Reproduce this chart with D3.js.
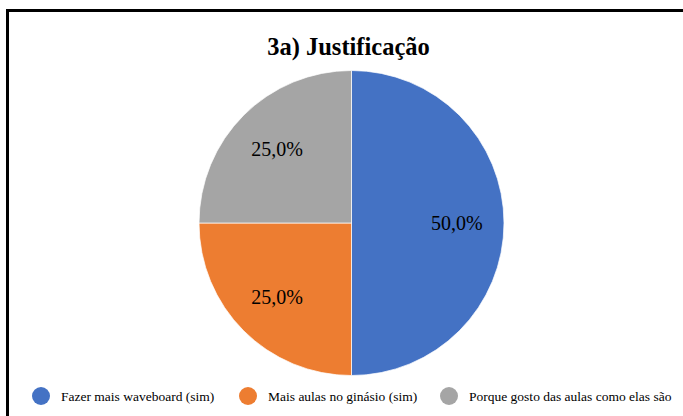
<!DOCTYPE html>
<html>
<head>
<meta charset="utf-8">
<script src="https://cdn.jsdelivr.net/npm/d3@7"></script>
<style>
    body { margin: 0; background: white; }
    svg text { font-family: "Liberation Serif", "Times New Roman", Tinos, "DejaVu Serif", serif; }
</style>
</head>
<body>
<svg id="chart"></svg>
<script>
// categories and shares (percent)
const categories = ["Fazer mais waveboard (sim)", "Mais aulas no ginásio (sim)", "Porque gosto das aulas como elas são"];
const values = [50.0, 25.0, 25.0];
const colors = ["#4472C4", "#ED7D31", "#A5A5A5"];
const title = "3a) Justificação";

const width = 683;
const height = 416;
const serif = "'Liberation Serif', 'Times New Roman', Tinos, 'DejaVu Serif', serif";

const svg = d3.select("#chart")
    .attr("width", width)
    .attr("height", height);

// frame around the chart (runs off the right and bottom)
svg.append("rect")
    .attr("x", 7.5)
    .attr("y", 10.5)
    .attr("width", 720)
    .attr("height", 440)
    .style("fill", "white")
    .style("stroke", "black")
    .style("stroke-width", 3);

// title
svg.append("text")
    .attr("x", 348.5)
    .attr("y", 55)
    .attr("text-anchor", "middle")
    .attr("font-family", serif)
    .style("font-size", "24.5px")
    .style("font-weight", "bold")
    .style("fill", "#000")
    .text(title);

// pie
const cx = 351.5, cy = 223, radius = 152.5;
const data = categories.map((c, i) => ({ name: c, value: values[i], color: colors[i] }));

const pie = d3.pie()
    .sort(null)
    .value(d => d.value);

const arc = d3.arc()
    .innerRadius(0)
    .outerRadius(radius);

// labels sit a bit inside the slice
const labelArc = d3.arc()
    .innerRadius(radius * 0.69)
    .outerRadius(radius * 0.69);

const g = svg.append("g")
    .attr("transform", `translate(${cx},${cy})`);

g.selectAll("path")
    .data(pie(data))
    .enter()
    .append("path")
    .attr("d", arc)
    .style("fill", d => d.data.color)
    .style("stroke", "white")
    .style("stroke-width", 0.7);

g.selectAll("text.slice-label")
    .data(pie(data))
    .enter()
    .append("text")
    .attr("class", "slice-label")
    .attr("transform", d => `translate(${labelArc.centroid(d)})`)
    .attr("text-anchor", "middle")
    .attr("dominant-baseline", "central")
    .attr("font-family", serif)
    .style("font-size", "20px")
    .style("fill", "#000")
    .text(d => d3.format(".1f")(d.data.value).replace(".", ",") + "%");

// legend
const legendX = [41, 248, 449];
const legendY = 396;

const legend = svg.selectAll("g.legend")
    .data(data)
    .enter()
    .append("g")
    .attr("class", "legend")
    .attr("transform", (d, i) => `translate(${legendX[i]},${legendY})`);

legend.append("circle")
    .attr("r", 9)
    .style("fill", d => d.color);

legend.append("text")
    .attr("x", 20)
    .attr("y", 0)
    .attr("dominant-baseline", "central")
    .attr("font-family", serif)
    .style("font-size", "13.5px")
    .style("fill", "#000")
    .text(d => d.name);
</script>
</body>
</html>
